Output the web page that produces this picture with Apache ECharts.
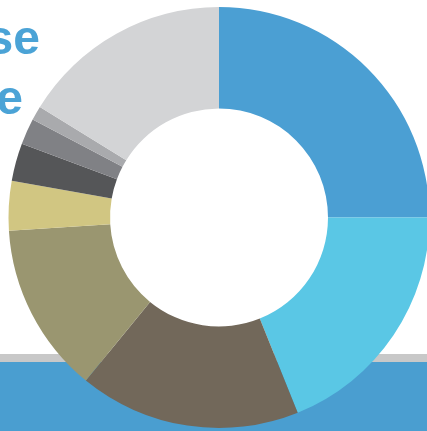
<!DOCTYPE html>
<html><head><meta charset="utf-8">
<script src="https://cdn.jsdelivr.net/npm/echarts@6/dist/echarts.min.js"></script>
<style>html,body{margin:0;padding:0;background:#fff}#c{width:427px;height:431px}</style>
</head><body><div id="c"></div>
<script>
const categories = ['A','B','C','D','E','F','G','H','I'];
const values = [25, 18.9, 17, 13.1, 3.8, 2.9, 2, 1.1, 16.2];
const colors = ['#4b9fd3','#5ac7e5','#72685a','#9a9670','#d1c682','#555658','#808185','#a9aaad','#d3d4d6'];
const titleLines = ['se','e'];
const chart = echarts.init(document.getElementById('c'));
chart.setOption({
  animation:false,
  graphic:[
    {type:'rect',z:0,shape:{x:0,y:354,width:427,height:8},style:{fill:'#c8c8c8'}},
    {type:'rect',z:0,shape:{x:0,y:362,width:427,height:69},style:{fill:'#4a9ed0'}},
    {type:'text',z:0,style:{text:titleLines[0],x:40,y:41,align:'right',verticalAlign:'middle',font:'bold 48px "Liberation Sans Narrow", "Liberation Sans", sans-serif',fill:'#4ba3d6'}},
    {type:'text',z:0,style:{text:titleLines[1],x:23,y:101,align:'right',verticalAlign:'middle',font:'bold 48px "Liberation Sans Narrow", "Liberation Sans", sans-serif',fill:'#4ba3d6'}}
  ],
  series:[{
    type:'pie',z:5,
    center:[219,217.5],
    radius:[109,210.5],
    startAngle:90,
    clockwise:true,
    label:{show:false},labelLine:{show:false},
    emphasis:{disabled:true},
    itemStyle:{borderWidth:0},
    data:categories.map((c,i)=>({name:c,value:values[i],itemStyle:{color:colors[i]}}))
  }]
});
</script></body></html>
